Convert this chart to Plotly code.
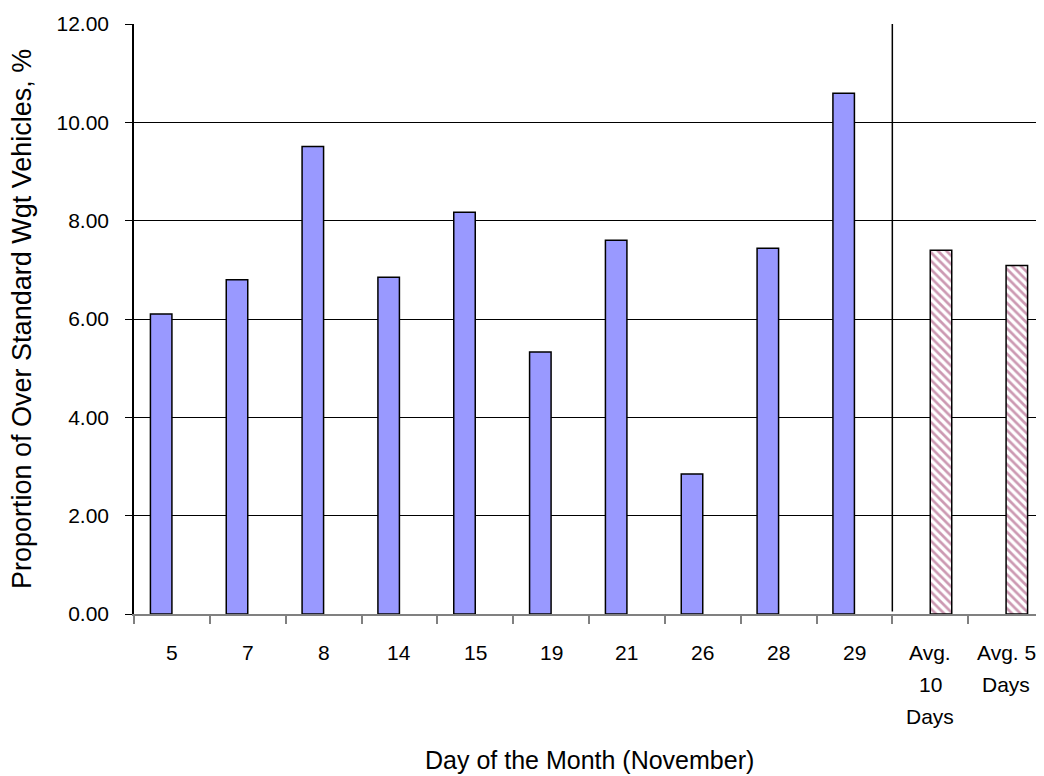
import plotly.graph_objects as go

categories = ["5", "7", "8", "14", "15", "19", "21", "26", "28", "29", "Avg. 10 Days", "Avg. 5 Days"]
tick_lines = [["5"], ["7"], ["8"], ["14"], ["15"], ["19"], ["21"], ["26"], ["28"], ["29"],
              ["Avg.", "10", "Days"], ["Avg. 5", "Days"]]
daily_values = [6.10, 6.80, 9.51, 6.85, 8.17, 5.33, 7.60, 2.85, 7.44, 10.59, None, None]
avg_values = [None] * 10 + [7.40, 7.09]
y_ticks = [0, 2, 4, 6, 8, 10, 12]

FONT = "Liberation Sans, Arial, sans-serif"

fig = go.Figure()
fig.add_trace(go.Bar(
    x=categories, y=daily_values, name="Daily",
    marker=dict(color="#9999FF", line=dict(color="black", width=1.5)),
))
fig.add_trace(go.Bar(
    x=categories, y=avg_values, name="Average",
    marker=dict(color="white", line=dict(color="black", width=1.5),
                pattern=dict(shape="\\", fgcolor="#993366", bgcolor="white",
                             size=6, solidity=0.45)),
))

# vertical separator between daily values and averages
fig.add_shape(type="line", xref="x", yref="y", x0=9.5, x1=9.5, y0=0.05, y1=12.08,
              line=dict(color="black", width=1.5))

# category labels as text lines
for idx, lines in enumerate(tick_lines):
    for i, ln in enumerate(lines):
        fig.add_annotation(x=idx, xref="x", y=0, yref="paper", text=ln,
                           showarrow=False, yanchor="middle", xanchor="center",
                           yshift=-38 - 32 * i,
                           font=dict(family=FONT, size=21, color="black"))

# axis titles
fig.add_annotation(x=0.5, xref="paper", y=0, yref="paper",
                   text="Day of the Month (November)", showarrow=False,
                   xanchor="center", yanchor="middle", yshift=-146,
                   font=dict(family=FONT, size=25, color="black"))
fig.add_annotation(x=0, xref="paper", y=0.5, yref="paper",
                   text="Proportion of Over Standard Wgt Vehicles, %", showarrow=False,
                   textangle=-90, xanchor="center", yanchor="middle", xshift=-112,
                   font=dict(family=FONT, size=27, color="black"))

fig.update_layout(
    width=1036, height=768,
    margin=dict(l=126, r=0, t=16, b=162),
    paper_bgcolor="white", plot_bgcolor="white",
    barmode="group", bargap=0.433, bargroupgap=0,
    showlegend=False,
    font=dict(family=FONT, size=21, color="black"),
    xaxis=dict(
        type="category", categoryorder="array", categoryarray=categories,
        range=[-0.5, 11.5],
        showticklabels=False, tickson="boundaries",
        ticks="outside", ticklen=8, tickcolor="#808080", tickwidth=1.5,
        showline=True, linecolor="#808080", linewidth=1.5,
        showgrid=False,
    ),
    yaxis=dict(
        range=[0, 12], tickvals=y_ticks, tickformat=".2f",
        ticks="outside", ticklen=7, tickcolor="black", tickwidth=1,
        ticklabelstandoff=12,
        showline=True, linecolor="black", linewidth=1.5,
        showgrid=True, gridcolor="black", gridwidth=1,
        zeroline=False,
        tickfont=dict(family=FONT, size=21),
    ),
)

fig.write_html("out.html")
